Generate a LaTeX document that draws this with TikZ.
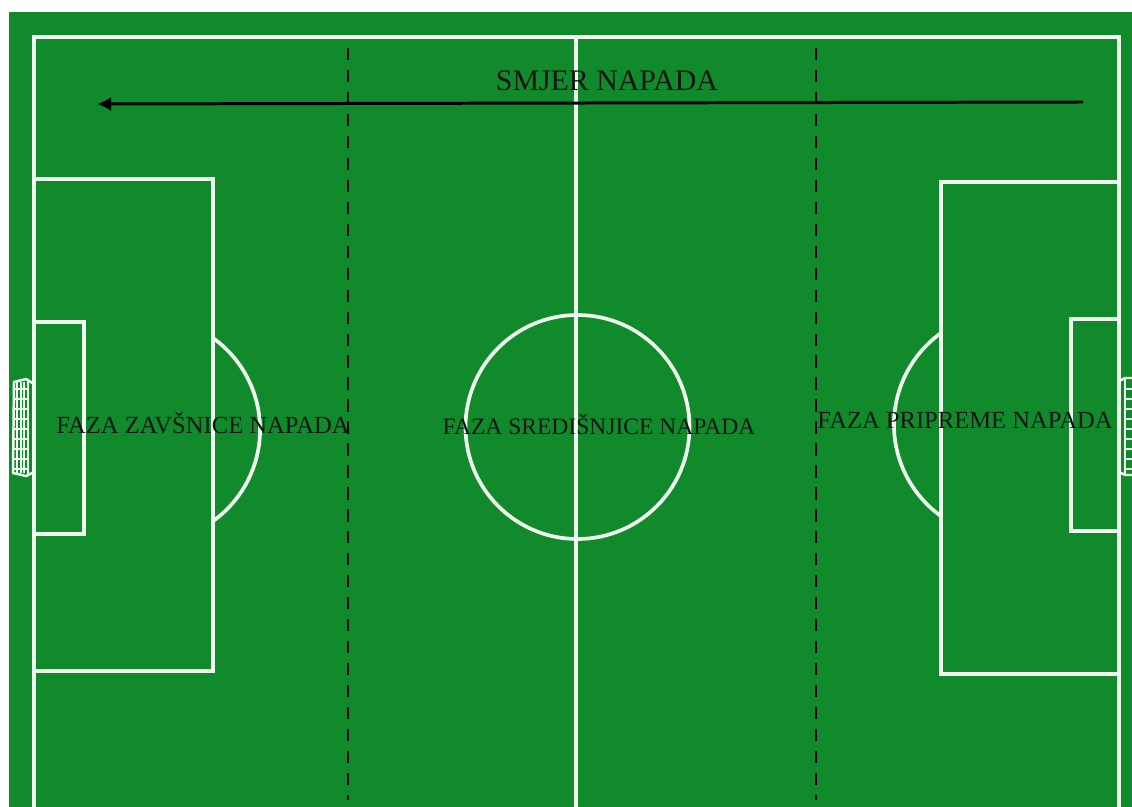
\documentclass[tikz,border=0pt]{standalone}
\usepackage{fontspec}
\setmainfont{Liberation Serif}
\usetikzlibrary{arrows.meta,calc}
\definecolor{pitchgreen}{HTML}{118A2C}
\definecolor{chalk}{HTML}{F0FAF0}

\begin{document}
\begin{tikzpicture}[
  x=0.02cm,y=-0.02cm,
  line/.style={draw=chalk,line width=2.1pt},
  net/.style={draw=chalk,line width=0.7pt},
  phase/.style={draw=black,line width=1.3pt,dash pattern=on 7pt off 5.5pt},
  label/.style={font=\fontsize{14pt}{16pt}\selectfont,text=black!92,inner sep=0pt},
]
\useasboundingbox (0,0) rectangle (1132,807);
\fill[white] (0,0) rectangle (1132,807);
\fill[pitchgreen] (9,12) rectangle (1132,807);
% outer lines
\draw[line] (34,807) -- (34,37) -- (1119,37) -- (1119,807);
\draw[line] (576,37) -- (576,807);
\draw[line] (577.5,427) circle (112);
% left side
\draw[line] (34,179) -- (213,179) -- (213,671) -- (34,671);
\draw[line] (34,322) -- (84,322) -- (84,534) -- (34,534);
\draw[line] (213,338) arc[start angle=-54.4,end angle=54.4,radius=112.6];
% right side
\draw[line] (1119,182) -- (941,182) -- (941,674) -- (1119,674);
\draw[line] (1119,319) -- (1071,319) -- (1071,531) -- (1119,531);
\draw[line] (941,333) arc[start angle=234.4,end angle=125.6,radius=112.6];
% left goal
\foreach \y in {389,399,...,469} \draw[net] (13,\y) -- (28,\y);
\foreach \x in {17,21,24} \draw[net] (\x,382) -- (\x,473);
\draw[line,line width=1.4pt] (34,384) -- (26,379) -- (14,382) -- (13,473) -- (26,476) -- (34,472);
\draw[line,line width=1.1pt] (28,381) -- (28,474);
% right goal
\foreach \y in {389,399,...,469} \draw[net] (1124,\y) -- (1132,\y);
\draw[line,line width=1.4pt] (1119,381) -- (1125,378) -- (1132,378);
\draw[line,line width=1.4pt] (1119,472) -- (1125,475) -- (1132,475);
\draw[line,line width=1.1pt] (1125,378) -- (1125,475);
% phases
\draw[phase] (348,48) -- (348,800);
\draw[phase] (816,48) -- (816,800);
\coordinate (start) at (1083,102);
\coordinate (end) at (97,104);
\draw[-{Latex[length=8pt,width=8pt]},black,line width=1.7pt] (start) -- (end);
\node[label,font=\fontsize{17pt}{19pt}\selectfont] (smjer) at (607,81) {SMJER NAPADA};
\node[label] (zavrsnica) at (203,423) {FAZA ZAVŠNICE NAPADA};
\node[label,font=\fontsize{13.4pt}{16pt}\selectfont] (sredisnjica) at (599,425) {FAZA SREDIŠNJICE NAPADA};
\node[label] (priprema) at (965,420) {FAZA PRIPREME NAPADA};
\end{tikzpicture}
\end{document}
